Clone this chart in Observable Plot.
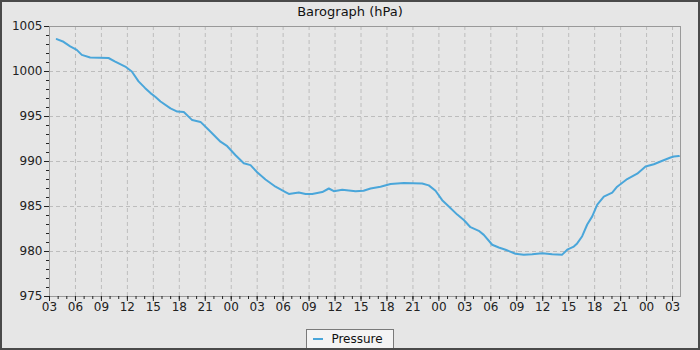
<!DOCTYPE html>
<html>
<head>
<meta charset="utf-8">
<script src="https://cdn.jsdelivr.net/npm/d3@7"></script>
<script src="https://cdn.jsdelivr.net/npm/@observablehq/plot@0.6"></script>
<style>
  html, body { margin: 0; padding: 0; background: #fff; }
  #wrap {
    width: 700px; height: 350px; box-sizing: border-box;
    border: 2px solid #4a4a4a; background: #e6e6e6;
    font-family: "DejaVu Sans", sans-serif; position: relative; overflow: hidden;
  }
  #title { height: 21px; line-height: 20px; text-align: center; font-size: 13px; color: #111; }
  #chart svg { display: block; }
  #legend { position: absolute; left: 0; right: 0; top: 323px; text-align: center; }
  #legend .box {
    display: inline-flex; align-items: center; gap: 8px;
    border: 1px solid #7a7a7a; background: #f4f4f4;
    padding: 2px 10px 6px 6px; font-size: 12px; line-height: 14px; color: #111;
  }
  #legend .sw { width: 10px; height: 2px; background: #4aa6da; display: inline-block; }
</style>
</head>
<body>
<div id="wrap">
  <div id="title">Barograph (hPa)</div>
  <div id="chart"></div>
  <div id="legend"><span class="box"><span class="sw"></span>Pressure</span></div>
</div>
<script>
// hours elapsed since the first "03" tick
const hours = [0.84, 1.62, 2.39, 3.15, 3.73, 4.70, 6.82, 7.59, 8.75, 9.51, 10.29, 11.06, 11.67, 12.22, 12.83,
  13.98, 14.76, 15.52, 16.49, 17.45, 18.41, 19.76, 20.54, 21.50, 22.45, 23.23, 24.00, 24.96, 26.12, 27.27,
  27.66, 28.81, 29.59, 30.36, 31.52, 32.28, 32.86, 33.83, 35.36, 36.29, 37.10, 38.25, 39.41, 40.95, 43.07,
  43.83, 44.61, 45.38, 46.15, 47.12, 47.88, 48.65, 49.61, 50.19, 51.16, 51.92, 52.70, 53.85, 54.81, 55.78,
  56.94, 58.10, 59.25, 59.83, 60.59, 60.98, 61.56, 62.14, 62.72, 63.30, 64.06, 65.03, 65.60, 66.76, 67.92,
  68.88, 69.84, 70.61, 71.77, 72.15, 72.73];
const pressure = [1003.6, 1003.3, 1002.8, 1002.4, 1001.85, 1001.56, 1001.5, 1001.1, 1000.55, 1000.0, 998.9, 998.15, 997.6, 997.2, 996.67,
  995.9, 995.55, 995.5, 994.6, 994.4, 993.5, 992.2, 991.7, 990.7, 989.8, 989.6, 988.8, 988.0, 987.2, 986.6,
  986.4, 986.55, 986.4, 986.4, 986.6, 987.0, 986.7, 986.85, 986.7, 986.75, 987.0, 987.2, 987.5, 987.6, 987.55,
  987.35, 986.75, 985.7, 985.0, 984.1, 983.5, 982.7, 982.3, 981.85, 980.75, 980.45, 980.2, 979.75, 979.65, 979.7,
  979.8, 979.7, 979.65, 980.2, 980.55, 980.9, 981.7, 983.0, 983.9, 985.2, 986.1, 986.55, 987.2, 988.05, 988.65,
  989.45, 989.7, 990.0, 990.45, 990.55, 990.6];
const xMajor = d3.range(0, 73, 3);
const xMinor = d3.range(0, 73, 1);
const yMajor = [975, 980, 985, 990, 995, 1000, 1005];
const yMinor = d3.range(975, 1006, 1);
const seriesName = "Pressure";

const data = hours.map((h, i) => ({h, p: pressure[i]}));
const fmtHour = h => String((h + 3) % 24).padStart(2, "0");

const chart = Plot.plot({
  width: 696, height: 290,
  marginLeft: 47, marginRight: 18, marginTop: 3, marginBottom: 17,
  style: {background: "transparent", fontFamily: "DejaVu Sans", fontSize: "12px", color: "#222", overflow: "visible"},
  x: {domain: [0, 72.92], label: null},
  y: {domain: [975, 1005], label: null},
  marks: [
    Plot.gridX(xMajor.slice(1), {stroke: "#bdbdbd", strokeOpacity: 1, strokeDasharray: "4,3"}),
    Plot.gridY(yMajor.slice(1, -1), {stroke: "#bdbdbd", strokeOpacity: 1, strokeDasharray: "4,3"}),
    Plot.frame({stroke: "#999"}),
    Plot.axisX(xMinor, {tickSize: 3, tickFormat: () => ""}),
    Plot.axisX(xMajor, {tickSize: 5, tickPadding: 1, tickFormat: fmtHour, fontSize: 12}),
    Plot.axisY(yMinor, {tickSize: 3, tickFormat: () => ""}),
    Plot.axisY(yMajor, {tickSize: 5, tickPadding: 2, tickFormat: d => String(d), fontSize: 12}),
    Plot.line(data, {x: "h", y: "p", stroke: "#4aa6da", strokeWidth: 2})
  ]
});
document.getElementById("chart").appendChild(chart);
document.querySelector("#legend .box").lastChild.textContent = seriesName;
</script>
</body>
</html>
